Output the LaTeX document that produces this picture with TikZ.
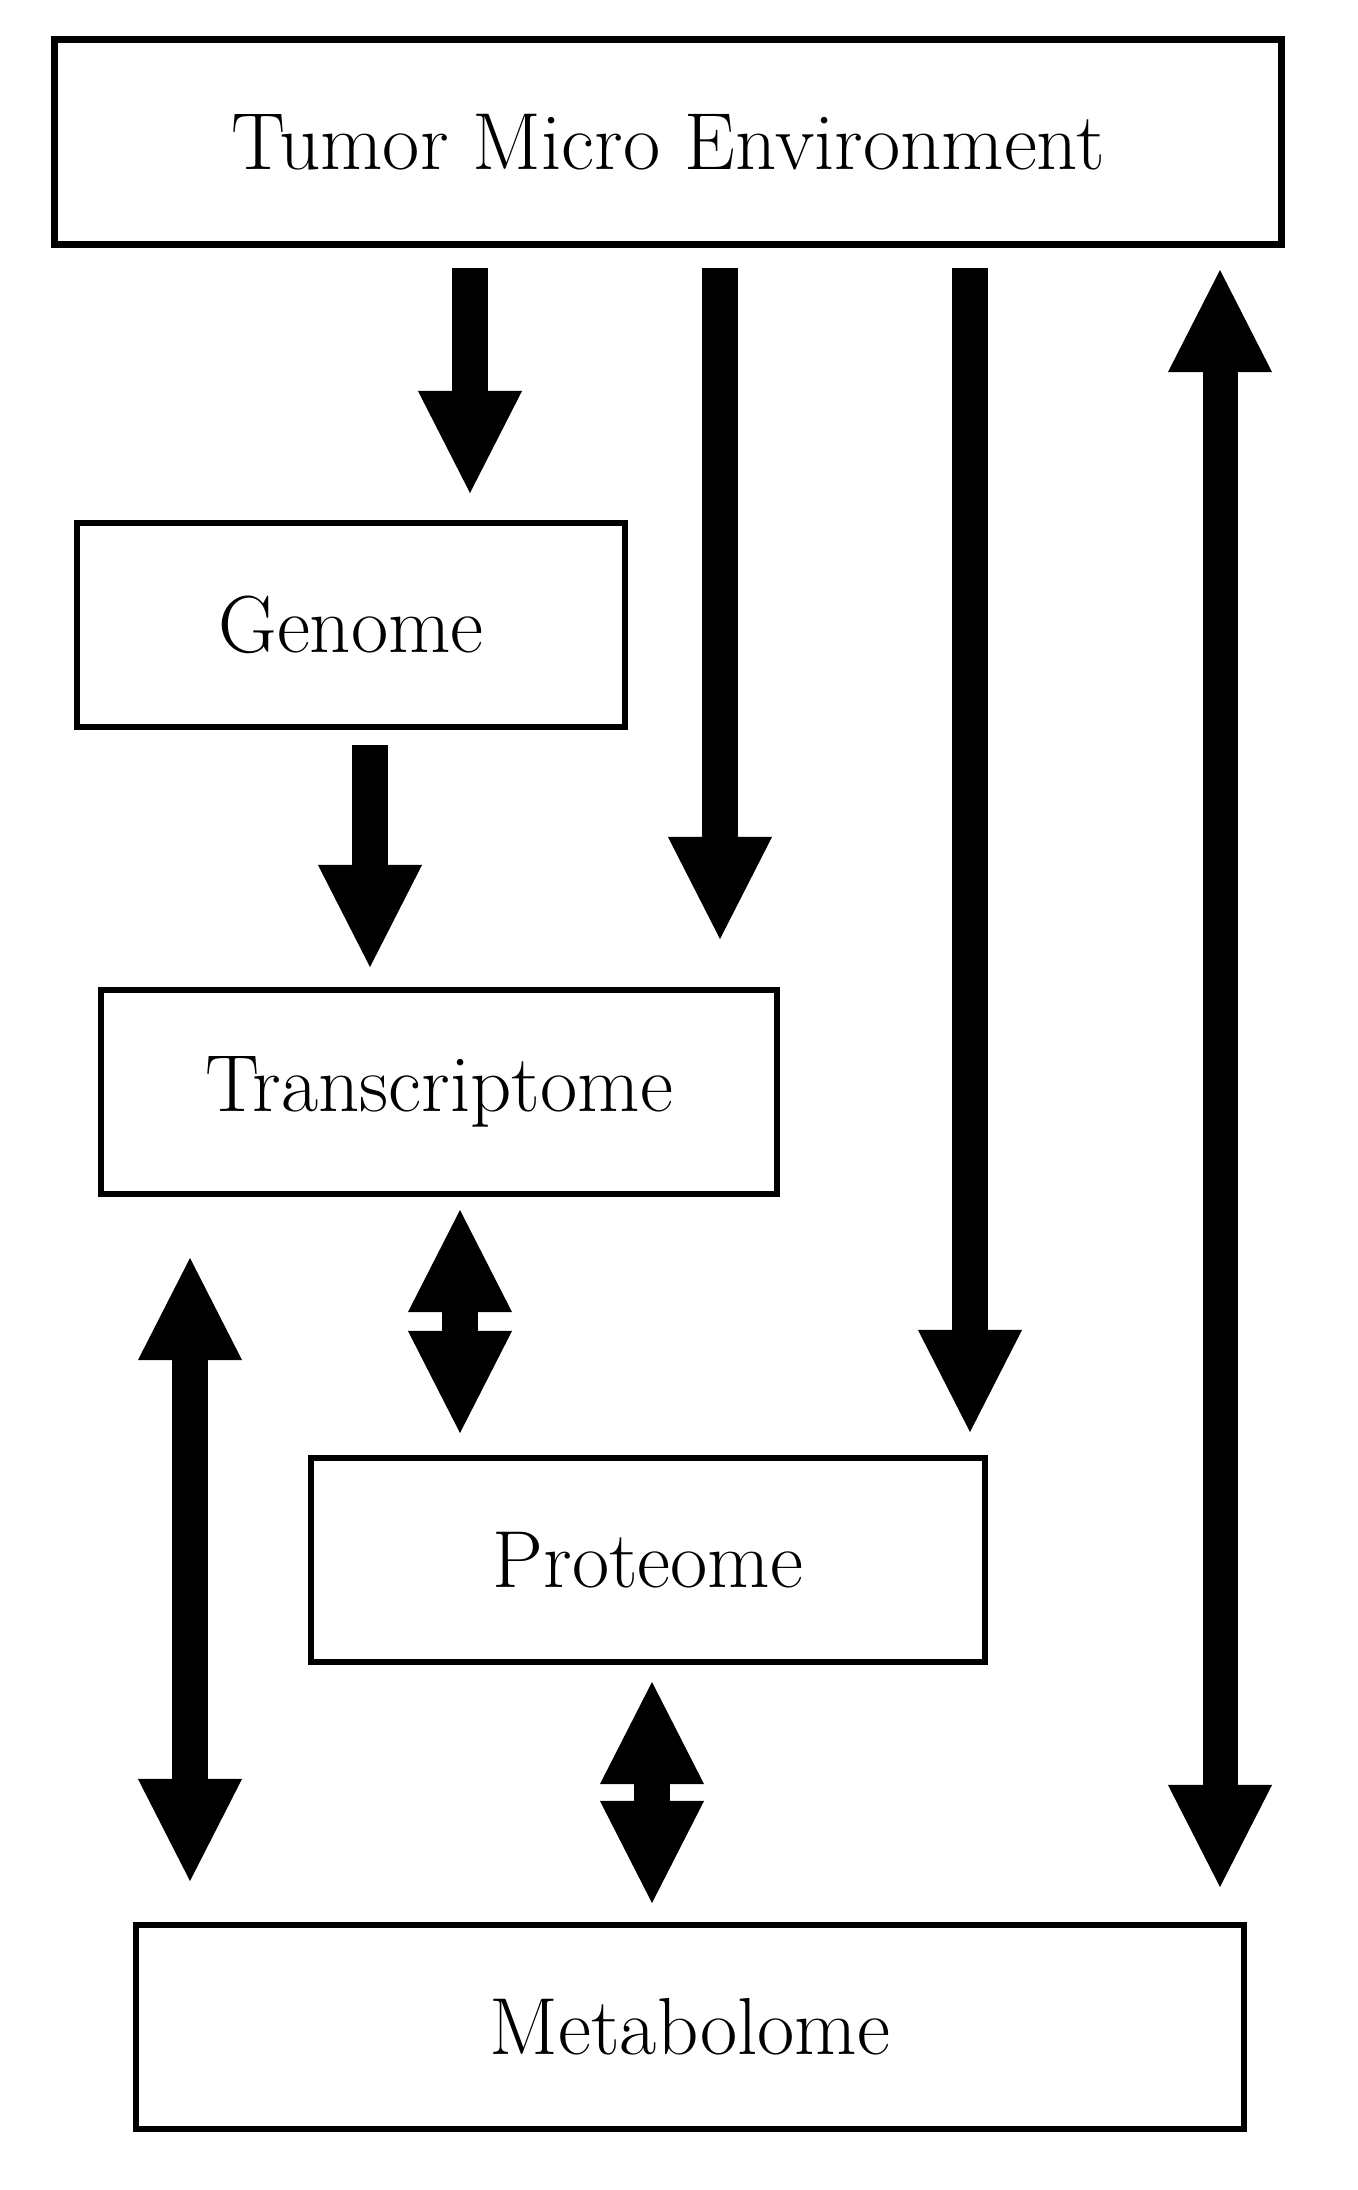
\documentclass[tikz,border=0pt]{standalone}
\usetikzlibrary{arrows.meta}
\begin{document}
\begin{tikzpicture}[x=0.01cm, y=-0.01cm,
    box/.style={draw=black, line width=0.06cm, minimum height=2.04cm, inner sep=0pt,
        font=\fontsize{23}{27}\selectfont},
    headtip/.style={Triangle[width=1.04cm, length=1.02cm, line width=0pt]},
    bigarrow/.style={line width=0.35cm, -{Triangle[width=1.04cm, length=1.02cm, line width=0pt]}},
    bigboth/.style={line width=0.35cm, {Triangle[width=1.04cm, length=1.02cm, line width=0pt]}-{Triangle[width=1.04cm, length=1.02cm, line width=0pt]}}
]
    \useasboundingbox (0,0) rectangle (1358,2190);

    % Boxes
    \node[box, line width=0.07cm, minimum width=12.26cm] (tme) at (668,142) {Tumor Micro Environment};
    \node[box, minimum width=5.47cm] (genome) at (351,625) {Genome};
    \node[box, minimum width=6.76cm] (trans) at (439,1092) {Transcriptome};
    \node[box, minimum width=6.73cm] (prot) at (648,1560) {Proteome};
    \node[box, minimum width=11.08cm] (metab) at (690,2027) {Metabolome};

    % Arrows from the micro environment
    \foreach \n/\xa/\ya in {1/470/493, 2/720/939, 3/970/1432} {
        \coordinate (tmes\n) at (\xa,268);
        \coordinate (tmee\n) at (\xa,\ya);
        \draw[bigarrow] (tmes\n) -- (tmee\n);
    }

    % Genome to transcriptome
    \coordinate (gens) at (370,745);
    \coordinate (gene) at (370,967);
    \draw[bigarrow] (gens) -- (gene);

    % Two-way arrows
    \foreach \n/\xa/\ya/\yb in {a/1220/270/1887, b/460/1210/1433, c/190/1258/1881, d/652/1682/1903} {
        \coordinate (twos\n) at (\xa,\ya);
        \coordinate (twoe\n) at (\xa,\yb);
        \draw[bigboth] (twos\n) -- (twoe\n);
    }

\end{tikzpicture}
\end{document}
